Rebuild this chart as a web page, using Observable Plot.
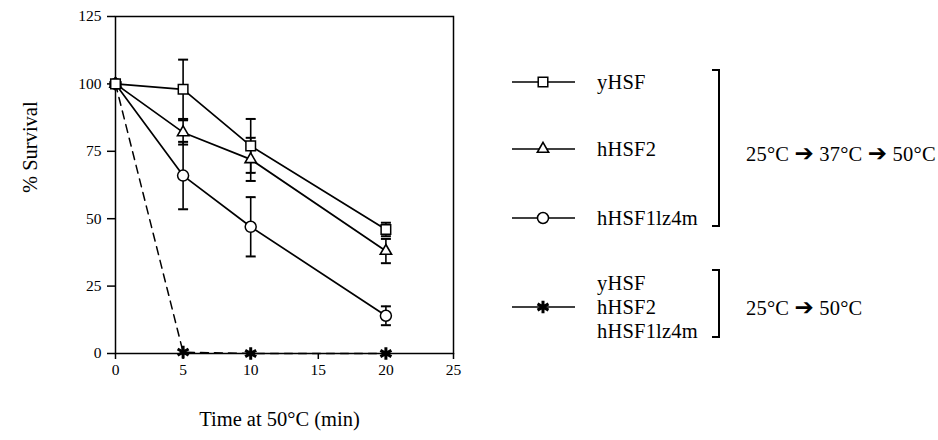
<!DOCTYPE html>
<html>
<head>
<meta charset="utf-8">
<script src="https://cdn.jsdelivr.net/npm/d3@7"></script>
<script src="https://cdn.jsdelivr.net/npm/@observablehq/plot@0.6"></script>
<style>
  html, body { margin: 0; padding: 0; background: #fff; }
  #wrap { position: relative; width: 938px; height: 440px; font-family: "Liberation Serif", serif; color: #000; }
  .lg { position: absolute; font-size: 20.5px; line-height: 1; white-space: nowrap; transform: translateY(-50%); letter-spacing: 0.2px; }
  .arrow { font-family: "DejaVu Sans", sans-serif; font-size: 23px; line-height: 1; }
  svg.sym { position: absolute; overflow: visible; }
</style>
</head>
<body>
<div id="wrap"></div>
<script>
// ---- data ----
const times = [0, 5, 10, 20];
const seriesNames = ["yHSF", "hHSF2", "hHSF1lz4m"];
const yHSF = [100, 98, 77, 46];
const yHSFErr = [0, 11, 10, 2.5];
const hHSF2 = [100, 82, 72, 38];
const hHSF2Err = [0, 4.5, 8, 4.5];
const hHSF1lz4m = [100, 66, 47, 14];
const hHSF1lz4mErr = [0, 12.5, 11, 3.5];
const directShock = [100, 0.5, 0, 0];
const xTicks = [0, 5, 10, 15, 20, 25];
const yTicks = [0, 25, 50, 75, 100, 125];
const xTitle = "Time at 50°C (min)";
const yTitle = "% Survival";
const groupLabel1 = ["25°C", "37°C", "50°C"];
const groupLabel2 = ["25°C", "50°C"];

const toRows = (name, vals, errs) => times.map((t, i) => ({series: name, t, v: vals[i], err: errs ? errs[i] : 0}));
const rowsY = toRows("yHSF", yHSF, yHSFErr);
const rowsH2 = toRows("hHSF2", hHSF2, hHSF2Err);
const rowsH1 = toRows("hHSF1lz4m", hHSF1lz4m, hHSF1lz4mErr);
const rowsShock = toRows("shock", directShock, null);
const solid = [...rowsY, ...rowsH2, ...rowsH1];
const withErr = solid.filter(d => d.err > 0);

const cap = { draw(context, size) { const r = Math.sqrt(size / Math.PI); context.moveTo(-r, 0); context.lineTo(r, 0); } };
const FONT = "Liberation Serif";

const chart = Plot.plot({
  width: 938,
  height: 440,
  marginLeft: 115,
  marginRight: 485,
  marginTop: 16,
  marginBottom: 87,
  style: { fontFamily: FONT, fontSize: "15px", color: "#000", background: "#fff" },
  x: { domain: [0, 25] },
  y: { domain: [0, 125] },
  marks: [
    Plot.frame({ stroke: "#000", strokeWidth: 1.5 }),
    Plot.axisX({ ticks: xTicks, tickSize: 6, tickPadding: 4, strokeWidth: 1.5, label: null, fontSize: 15.5 }),
    Plot.axisY({ ticks: yTicks, tickSize: 8, tickPadding: 6, strokeWidth: 1.5, label: null, fontSize: 15.5 }),
    Plot.text([xTitle], { frameAnchor: "bottom", dy: 72, dx: -5, fontSize: 20.5, fontFamily: FONT, fill: "#000" }),
    Plot.text([yTitle], { frameAnchor: "left", rotate: -90, dx: -85, dy: 8, fontSize: 20.5, fontFamily: FONT, fill: "#000" }),
    // lines
    Plot.line(rowsShock, { x: "t", y: "v", stroke: "#000", strokeWidth: 1.5, strokeDasharray: "8,6" }),
    Plot.line(solid, { x: "t", y: "v", z: "series", stroke: "#000", strokeWidth: 1.7 }),
    // error bars
    Plot.ruleX(withErr, { x: "t", y1: d => d.v - d.err, y2: d => d.v + d.err, stroke: "#000", strokeWidth: 1.6 }),
    Plot.dot(withErr, { x: "t", y: d => d.v + d.err, symbol: cap, r: 5, stroke: "#000", strokeWidth: 2, fill: "none" }),
    Plot.dot(withErr, { x: "t", y: d => d.v - d.err, symbol: cap, r: 5, stroke: "#000", strokeWidth: 2, fill: "none" }),
    // markers
    Plot.dot(rowsShock, { x: "t", y: "v", symbol: "asterisk", r: 6, stroke: "#000", strokeWidth: 3 }),
    Plot.dot(rowsH1, { x: "t", y: "v", symbol: "circle", r: 5.5, stroke: "#000", strokeWidth: 1.5, fill: "#fff" }),
    Plot.dot(rowsH2, { x: "t", y: "v", symbol: "triangle", r: 4.2, stroke: "#000", strokeWidth: 1.6, fill: "#fff" }),
    Plot.dot(rowsY, { x: "t", y: "v", symbol: "square", r: 5.4, stroke: "#000", strokeWidth: 1.5, fill: "#fff" })
  ]
});

const wrap = document.getElementById("wrap");
wrap.appendChild(chart);

// ---- legend (HTML overlay) ----
function symbolSvg(left, cy, type, r, sw) {
  const ns = "http://www.w3.org/2000/svg";
  const svg = document.createElementNS(ns, "svg");
  svg.setAttribute("class", "sym");
  svg.setAttribute("width", 64);
  svg.setAttribute("height", 20);
  svg.style.left = left + "px";
  svg.style.top = (cy - 10) + "px";
  const line = document.createElementNS(ns, "line");
  line.setAttribute("x1", 0); line.setAttribute("x2", 63);
  line.setAttribute("y1", 10); line.setAttribute("y2", 10);
  line.setAttribute("stroke", "#000"); line.setAttribute("stroke-width", 1.7);
  svg.appendChild(line);
  const p = document.createElementNS(ns, "path");
  p.setAttribute("d", d3.symbol(type, Math.PI * r * r)());
  p.setAttribute("transform", "translate(31,10)");
  p.setAttribute("stroke", "#000");
  p.setAttribute("stroke-width", sw);
  p.setAttribute("fill", type === d3.symbolAsterisk ? "none" : "#fff");
  svg.appendChild(p);
  wrap.appendChild(svg);
}
function label(left, cy, html) {
  const d = document.createElement("div");
  d.className = "lg";
  d.style.left = left + "px";
  d.style.top = cy + "px";
  d.innerHTML = html;
  wrap.appendChild(d);
}
function bracket(x, y1, y2) {
  const ns = "http://www.w3.org/2000/svg";
  const svg = document.createElementNS(ns, "svg");
  svg.setAttribute("class", "sym");
  svg.setAttribute("width", 12);
  svg.setAttribute("height", y2 - y1 + 4);
  svg.style.left = (x - 9) + "px";
  svg.style.top = (y1 - 2) + "px";
  const p = document.createElementNS(ns, "path");
  p.setAttribute("d", `M2,2 H9 V${y2 - y1 + 2} H2`);
  p.setAttribute("stroke", "#000");
  p.setAttribute("stroke-width", 2);
  p.setAttribute("fill", "none");
  svg.appendChild(p);
  wrap.appendChild(svg);
}

symbolSvg(512, 82, d3.symbolSquare, 5.4, 1.5);
symbolSvg(512, 149, d3.symbolTriangle, 4.2, 1.6);
symbolSvg(512, 218, d3.symbolCircle, 5.5, 1.5);
symbolSvg(512, 307, d3.symbolAsterisk, 6, 3);

label(597, 82, seriesNames[0]);
label(597, 149, seriesNames[1]);
label(597, 218, seriesNames[2]);
label(597, 283, seriesNames[0]);
label(597, 307, seriesNames[1]);
label(597, 331, seriesNames[2]);

bracket(719, 70, 226);
bracket(719, 270, 337);

const arrow = ' <span class="arrow">➔</span> ';
label(746, 153, groupLabel1.join(arrow));
label(746, 307, groupLabel2.join(arrow));
</script>
</body>
</html>
